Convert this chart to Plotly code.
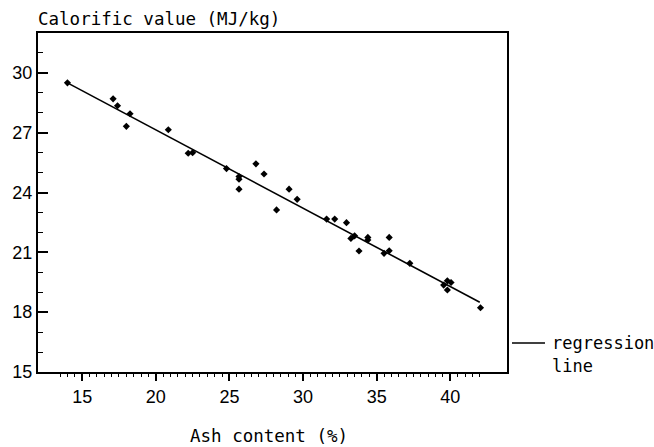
import plotly.graph_objects as go

# Data
ash = [14.0, 17.1, 17.4, 18.25, 18.0, 20.85, 22.2, 22.5, 24.8, 25.65, 25.65, 25.65,
       26.8, 27.35, 28.2, 29.05, 29.6, 31.6, 32.15, 32.95, 33.25, 33.5, 33.8, 34.4,
       34.4, 35.5, 35.85, 35.85, 37.25, 39.55, 39.8, 40.05, 39.8, 42.05]
cal = [29.5, 28.7, 28.35, 27.95, 27.32, 27.15, 25.97, 26.0, 25.2, 24.8, 24.67, 24.17,
       25.44, 24.93, 23.13, 24.17, 23.66, 22.67, 22.67, 22.49, 21.7, 21.83, 21.07, 21.75,
       21.62, 20.95, 21.08, 21.75, 20.45, 19.36, 19.57, 19.49, 19.11, 18.22]
reg_x = [14.0, 42.0]
reg_y = [29.5, 18.5]

x_ticks = [15, 20, 25, 30, 35, 40]
y_ticks = [15, 18, 21, 24, 27, 30]

fig = go.Figure()
fig.add_trace(go.Scatter(x=reg_x, y=reg_y, mode="lines",
                         line=dict(color="black", width=1.6), showlegend=False))
fig.add_trace(go.Scatter(x=ash, y=cal, mode="markers",
                         marker=dict(symbol="diamond", size=5.5, color="black"),
                         showlegend=False))

minor_x = [13.5 + 0.5 * i for i in range(58)]

fig.update_layout(
    width=654, height=447,
    margin=dict(l=36, r=147, t=33, b=75),
    plot_bgcolor="white", paper_bgcolor="white",
    font=dict(family="Liberation Sans, Arial", size=18, color="black"),
    xaxis=dict(range=[12.0, 43.85], tickvals=x_ticks, ticktext=[str(v) for v in x_ticks],
               showline=True, linecolor="black", linewidth=2, mirror=True,
               ticks="outside", ticklen=7, tickwidth=1.5, tickcolor="black",
               minor=dict(tickvals=minor_x, ticks="outside", ticklen=3, tickwidth=1, tickcolor="black"),
               showgrid=False, zeroline=False, fixedrange=True),
    yaxis=dict(range=[15, 32.0], tickvals=y_ticks, ticktext=[str(v) for v in y_ticks],
               showline=True, linecolor="black", linewidth=2, mirror=True,
               ticks="inside", ticklen=10, tickwidth=1.5, tickcolor="black",
               minor=dict(dtick=1, ticks="inside", ticklen=5, tickwidth=1, tickcolor="black"),
               showgrid=False, zeroline=False, fixedrange=True),
)

mono = "DejaVu Sans Mono"
fig.add_annotation(text="Calorific value (MJ/kg)", xref="paper", yref="paper",
                   x=0, y=1, xanchor="left", yanchor="middle", xshift=-2, yshift=14,
                   showarrow=False, font=dict(family=mono, size=17.5))
fig.add_annotation(text="Ash content (%)", xref="paper", yref="paper",
                   x=0.4926, y=0, xanchor="center", yanchor="middle", yshift=-64,
                   showarrow=False, font=dict(family=mono, size=17.5))
fig.add_shape(type="line", xref="paper", yref="paper",
              x0=1.0106, x1=1.081, y0=0.0855, y1=0.0855,
              line=dict(color="black", width=1.5))
fig.add_annotation(text="regression", xref="paper", yref="paper",
                   x=1.0913, y=0.0855, xanchor="left", yanchor="middle",
                   showarrow=False, font=dict(family=mono, size=17))
fig.add_annotation(text="line", xref="paper", yref="paper",
                   x=1.0913, y=0.0855, xanchor="left", yanchor="middle", yshift=-23,
                   showarrow=False, font=dict(family=mono, size=17))

fig.write_html("out.html", config={"displayModeBar": False},
               post_script="document.body.style.margin='0px';")
